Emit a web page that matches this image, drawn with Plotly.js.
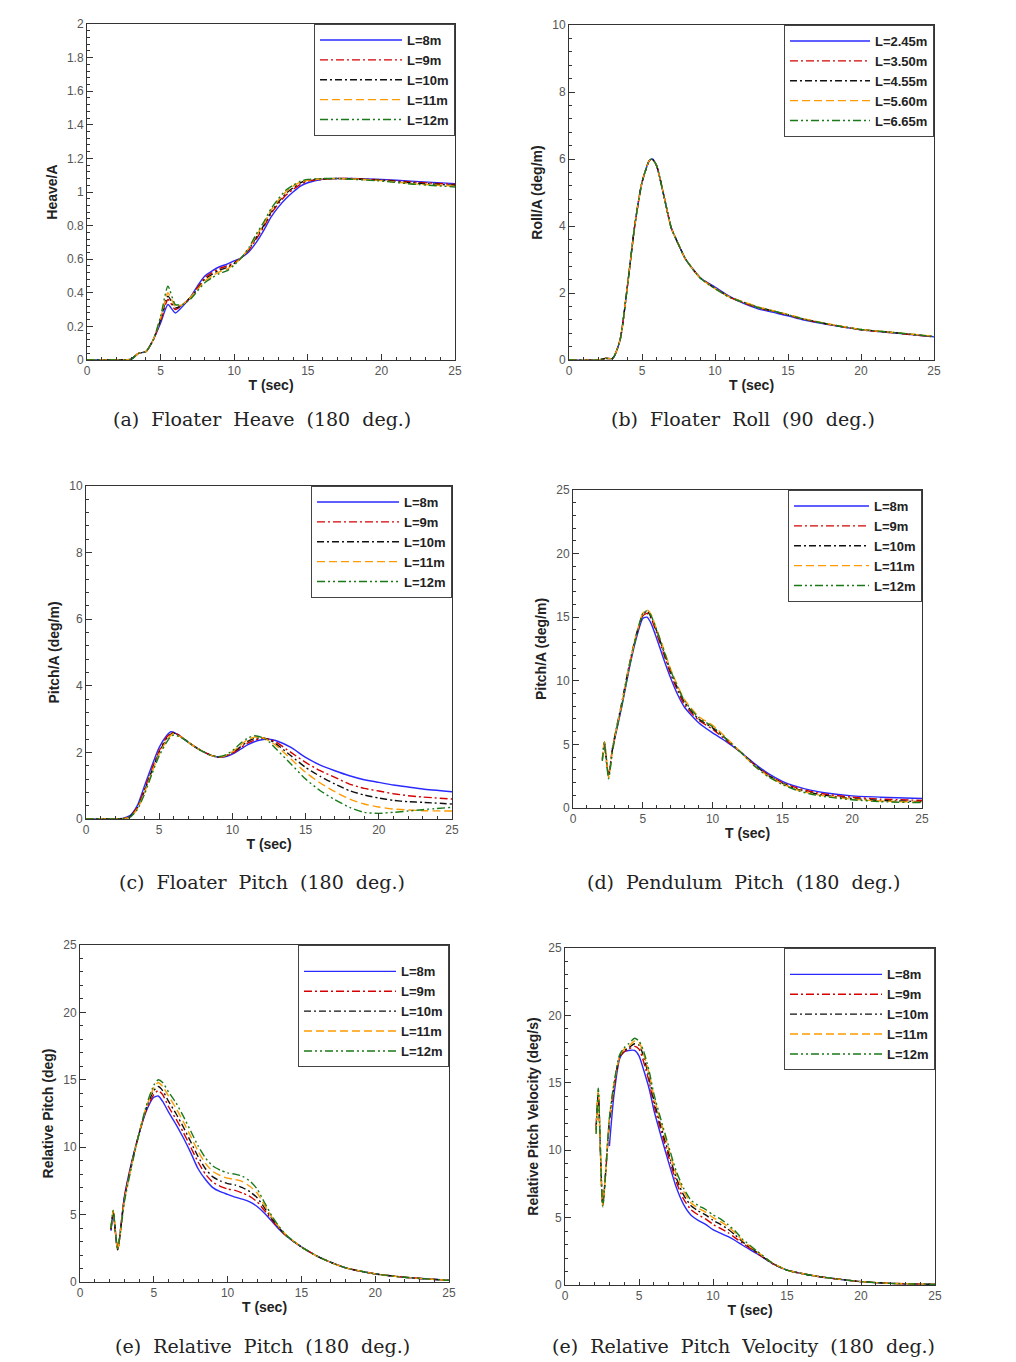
<!DOCTYPE html>
<html>
<head>
<meta charset="utf-8">
<script src="https://cdn.plot.ly/plotly-3.0.1.min.js"></script>
<style>html,body{margin:0;padding:0;background:#fff;}#chart{width:1016px;height:1362px;}</style>
</head>
<body>
<div id="chart"></div>
<script>
// ---------------- DATA ----------------
const namesA = ["L=8m", "L=9m", "L=10m", "L=11m", "L=12m"];
const namesB = ["L=2.45m", "L=3.50m", "L=4.55m", "L=5.60m", "L=6.65m"];

// (a) Floater Heave
const xHeave = [0,2,3,3.5,4,4.5,5,5.5,6,6.5,7,7.5,8,8.5,9,9.5,10,10.5,11,11.5,12,12.5,13,13.5,14,14.5,15,16,17,18,20,22,25];
const heaveL8  = [0,0,0.005,0.04,0.05,0.12,0.22,0.33,0.28,0.32,0.37,0.44,0.50,0.53,0.555,0.57,0.59,0.61,0.645,0.70,0.77,0.85,0.91,0.96,1.00,1.035,1.055,1.075,1.08,1.08,1.075,1.065,1.05];
const heaveL9  = [0,0,0.005,0.04,0.05,0.12,0.23,0.36,0.30,0.33,0.37,0.43,0.49,0.52,0.545,0.56,0.58,0.61,0.655,0.72,0.79,0.87,0.93,0.98,1.015,1.045,1.065,1.075,1.08,1.08,1.072,1.06,1.045];
const heaveL10 = [0,0,0.005,0.04,0.05,0.12,0.24,0.38,0.31,0.33,0.37,0.42,0.48,0.51,0.535,0.55,0.575,0.61,0.66,0.73,0.80,0.88,0.94,0.99,1.025,1.055,1.07,1.078,1.08,1.078,1.07,1.055,1.04];
const heaveL11 = [0,0,0.005,0.04,0.05,0.12,0.25,0.40,0.32,0.33,0.37,0.42,0.47,0.50,0.525,0.54,0.57,0.61,0.665,0.74,0.81,0.89,0.95,1.00,1.035,1.06,1.07,1.078,1.08,1.078,1.068,1.05,1.035];
const heaveL12 = [0,0,0.005,0.04,0.05,0.12,0.26,0.44,0.33,0.33,0.36,0.41,0.46,0.49,0.515,0.53,0.565,0.61,0.67,0.75,0.82,0.90,0.96,1.01,1.04,1.065,1.075,1.08,1.08,1.076,1.065,1.048,1.03];

// (b) Floater Roll
const xRoll = [0,2,2.5,3,3.5,4,4.5,5,5.5,5.7,6,6.5,7,7.5,8,9,10,11,12,13,14,15,16,18,20,22,25];
const rollL245 = [0,0,0.05,0.05,0.6,2.2,4.0,5.3,5.95,6.0,5.8,4.9,3.95,3.45,3.0,2.45,2.18,1.9,1.68,1.52,1.42,1.32,1.2,1.04,0.9,0.82,0.69];
const rollL350 = [0,0,0.05,0.05,0.6,2.2,4.0,5.3,5.95,6.0,5.8,4.9,3.95,3.45,3.0,2.45,2.15,1.88,1.70,1.55,1.45,1.34,1.22,1.05,0.9,0.82,0.69];
const rollL455 = [0,0,0.05,0.05,0.6,2.2,4.0,5.3,5.95,6.0,5.8,4.9,3.95,3.45,3.0,2.45,2.14,1.88,1.72,1.57,1.46,1.35,1.23,1.05,0.91,0.83,0.70];
const rollL560 = [0,0,0.05,0.05,0.6,2.2,4.0,5.3,5.95,6.0,5.8,4.9,3.95,3.45,3.0,2.44,2.13,1.88,1.73,1.58,1.47,1.36,1.24,1.06,0.91,0.83,0.71];
const rollL665 = [0,0,0.05,0.05,0.6,2.2,4.0,5.3,5.95,6.0,5.8,4.9,3.95,3.45,3.0,2.44,2.13,1.87,1.71,1.56,1.46,1.35,1.23,1.05,0.91,0.83,0.70];

// (c) Floater Pitch
const xPitch = [0,2,2.5,3,3.5,4,4.5,5,5.5,5.8,6,6.5,7,7.5,8,8.5,9,9.5,10,10.5,11,11.5,12,12.5,13,14,15,16,17,18,19,20,21,22,23,25];
const pitchL8  = [0,0,0.02,0.1,0.4,1.0,1.6,2.15,2.5,2.62,2.6,2.46,2.3,2.15,2.02,1.92,1.86,1.87,1.95,2.08,2.22,2.32,2.38,2.4,2.35,2.15,1.85,1.62,1.45,1.3,1.18,1.1,1.02,0.96,0.9,0.82];
const pitchL9  = [0,0,0.01,0.08,0.35,0.9,1.5,2.05,2.45,2.58,2.6,2.47,2.3,2.15,2.02,1.92,1.86,1.88,1.97,2.12,2.27,2.37,2.42,2.4,2.3,2.0,1.7,1.45,1.25,1.05,0.92,0.84,0.76,0.7,0.66,0.6];
const pitchL10 = [0,0,0.01,0.07,0.32,0.85,1.45,2.0,2.4,2.55,2.58,2.47,2.3,2.15,2.02,1.92,1.86,1.89,1.99,2.15,2.32,2.42,2.44,2.38,2.25,1.9,1.55,1.28,1.05,0.85,0.72,0.63,0.56,0.52,0.5,0.45];
const pitchL11 = [0,0,0.01,0.06,0.3,0.8,1.4,1.95,2.35,2.52,2.56,2.46,2.3,2.15,2.02,1.92,1.86,1.9,2.02,2.2,2.37,2.46,2.45,2.35,2.2,1.8,1.4,1.08,0.82,0.6,0.45,0.36,0.3,0.27,0.25,0.24];
const pitchL12 = [0,0,0.01,0.05,0.28,0.75,1.35,1.9,2.3,2.48,2.52,2.45,2.3,2.15,2.02,1.92,1.87,1.92,2.05,2.25,2.42,2.5,2.45,2.32,2.1,1.65,1.2,0.85,0.58,0.35,0.2,0.17,0.2,0.24,0.28,0.35];

// (d) Pendulum Pitch
const xPend = [2.1,2.25,2.55,2.8,3,3.5,4,4.5,5,5.3,5.6,6,6.5,7,7.5,8,9,10,11,12,13,14,15,16,17,18,20,22,25];
const pendL8  = [null,null,null,4.6,5.5,8.0,10.8,13.2,14.9,15.0,14.5,13.3,11.7,10.2,8.9,7.9,6.7,5.9,5.2,4.4,3.5,2.7,2.1,1.7,1.4,1.2,0.95,0.85,0.75];
const pendL9  = [null,5.0,2.6,4.5,5.6,8.2,11.0,13.4,15.1,15.3,14.9,13.7,12.1,10.5,9.2,8.1,6.9,6.2,5.3,4.4,3.4,2.6,2.0,1.6,1.3,1.1,0.85,0.7,0.6];
const pendL10 = [3.8,5.2,2.5,4.4,5.7,8.3,11.1,13.5,15.2,15.5,15.0,13.9,12.3,10.7,9.4,8.3,7.0,6.3,5.4,4.4,3.4,2.55,1.95,1.5,1.2,1.0,0.75,0.6,0.5];
const pendL11 = [3.8,5.2,2.4,4.3,5.6,8.2,11.0,13.5,15.3,15.6,15.2,14.0,12.5,10.9,9.6,8.5,7.2,6.5,5.5,4.4,3.3,2.5,1.9,1.45,1.15,0.95,0.7,0.55,0.45];
const pendL12 = [3.7,5.1,2.3,4.2,5.5,8.1,10.9,13.4,15.3,15.5,15.1,14.0,12.4,10.8,9.5,8.4,7.1,6.4,5.4,4.4,3.3,2.45,1.85,1.4,1.1,0.9,0.65,0.5,0.42];

// (e) Relative Pitch
const xRel = [2.1,2.25,2.55,3,3.5,4,4.5,5,5.3,5.6,6,6.5,7,7.5,8,8.5,9,9.5,10,10.5,11,11.5,12,12.5,13,13.5,14,15,16,17,18,20,22,25];
const relL8  = [3.8,5.1,2.4,6.3,8.9,11.0,12.7,13.7,13.8,13.4,12.6,11.7,10.7,9.6,8.4,7.6,7.0,6.7,6.5,6.3,6.15,5.95,5.6,5.1,4.5,3.9,3.4,2.6,1.95,1.45,1.05,0.6,0.35,0.12];
const relL9  = [3.9,5.2,2.4,6.2,8.8,11.0,12.8,13.9,14.2,13.9,13.0,12.1,11.1,10.0,8.9,8.0,7.4,7.1,6.9,6.8,6.6,6.35,5.95,5.3,4.6,3.95,3.4,2.6,1.95,1.45,1.05,0.6,0.35,0.12];
const relL10 = [3.9,5.2,2.4,6.1,8.8,11.0,12.9,14.2,14.5,14.2,13.4,12.5,11.5,10.4,9.3,8.4,7.8,7.5,7.3,7.2,7.0,6.7,6.25,5.5,4.7,4.0,3.4,2.6,1.95,1.45,1.05,0.6,0.35,0.12];
const relL11 = [4.0,5.3,2.4,6.0,8.7,11.0,13.0,14.4,14.8,14.5,13.8,12.9,11.9,10.8,9.7,8.8,8.2,7.9,7.7,7.6,7.45,7.1,6.6,5.7,4.8,4.05,3.45,2.6,1.95,1.45,1.05,0.6,0.35,0.12];
const relL12 = [4.0,5.3,2.4,5.9,8.6,11.0,13.1,14.6,15.0,14.8,14.1,13.3,12.3,11.2,10.1,9.2,8.6,8.3,8.1,8.0,7.85,7.5,6.9,5.9,4.9,4.1,3.45,2.6,1.95,1.45,1.05,0.6,0.35,0.12];

// (f) Relative Pitch Velocity
const xVel = [2.1,2.25,2.55,3,3.3,3.7,4,4.3,4.7,5,5.3,5.7,6,6.5,7,7.5,8,8.5,9,9.5,10,10.5,11,11.5,12,13,14,15,16,17,18,20,22,25];
const velL8  = [null,null,null,10.3,14.0,16.8,17.3,17.4,17.4,17.0,16.0,14.5,13.0,11.0,9.1,7.3,6.0,5.2,4.8,4.5,4.1,3.85,3.6,3.3,2.95,2.3,1.6,1.1,0.85,0.65,0.5,0.25,0.12,0.05];
const velL9  = [11.8,14.0,6.0,12.0,14.5,16.9,17.3,17.5,17.7,17.5,16.6,15.0,13.4,11.4,9.5,7.7,6.4,5.6,5.2,4.9,4.5,4.2,3.9,3.5,3.1,2.35,1.6,1.1,0.85,0.65,0.5,0.25,0.12,0.05];
const velL10 = [11.5,14.3,5.9,12.2,14.7,17.0,17.4,17.6,17.9,17.8,17.0,15.3,13.7,11.7,9.8,8.0,6.7,5.9,5.5,5.2,4.8,4.5,4.15,3.7,3.2,2.4,1.6,1.1,0.85,0.65,0.5,0.25,0.12,0.05];
const velL11 = [11.3,14.5,5.9,12.3,14.8,17.0,17.5,17.7,18.1,18.0,17.2,15.6,14.0,12.0,10.1,8.3,7.0,6.1,5.7,5.4,5.0,4.7,4.35,3.85,3.3,2.45,1.65,1.1,0.85,0.65,0.5,0.25,0.12,0.05];
const velL12 = [11.2,14.6,5.8,12.4,14.9,17.1,17.6,17.9,18.3,18.1,17.4,15.8,14.2,12.2,10.3,8.5,7.2,6.3,5.9,5.6,5.2,4.9,4.5,4.0,3.4,2.5,1.65,1.1,0.85,0.65,0.5,0.25,0.12,0.05];

const captions = ["(a)  Floater  Heave  (180  deg.)", "(b)  Floater  Roll  (90  deg.)", "(c)  Floater  Pitch  (180  deg.)",
                  "(d)  Pendulum  Pitch  (180  deg.)", "(e)  Relative  Pitch  (180  deg.)", "(e)  Relative  Pitch  Velocity  (180  deg.)"];
const yTitles = ["Heave/A", "Roll/A (deg/m)", "Pitch/A (deg/m)", "Pitch/A (deg/m)", "Relative Pitch (deg)", "Relative Pitch Velocity (deg/s)"];

// ---------------- STYLE ----------------
const W = 1016, H = 1362;
const lineStyles = [
  {color: "#2a2aff", dash: "solid"},
  {color: "#d40000", dash: "8px,3px,2px,3px"},
  {color: "#111111", dash: "7px,3px,2px,3px"},
  {color: "#ff9a00", dash: "8px,4px"},
  {color: "#1a7a1a", dash: "8px,3px,2px,3px,2px,3px"}
];
// plot boxes in pixels: [left, top, right, bottom]
const boxes = [[87,24,455,360],[569,25,934,360],[86,486,452,819],[573,490,922,808],[80,945,449,1282],[565,948,935,1285]];
const yRanges = [[0,2],[0,10],[0,10],[0,25],[0,25],[0,25]];
const yDticks = [0.2,2,2,5,5,5];
const yMinor = [0.04,0.4,0.4,1,1,1];
const capPos = [[262,419],[743,419],[262,882],[744,882],[262,1346],[743,1346]];
const legItemW = [82, 80, 82, 75, 92, 92];
const legTopPad = [false, false, false, false, true, true];

const panels = [
  {x: xHeave, ys: [heaveL8, heaveL9, heaveL10, heaveL11, heaveL12], names: namesA},
  {x: xRoll,  ys: [rollL245, rollL350, rollL455, rollL560, rollL665], names: namesB},
  {x: xPitch, ys: [pitchL8, pitchL9, pitchL10, pitchL11, pitchL12], names: namesA},
  {x: xPend,  ys: [pendL8, pendL9, pendL10, pendL11, pendL12], names: namesA},
  {x: xRel,   ys: [relL8, relL9, relL10, relL11, relL12], names: namesA},
  {x: xVel,   ys: [velL8, velL9, velL10, velL11, velL12], names: namesA}
];

const tickFont = {family: "Liberation Sans, Arial, sans-serif", size: 12, color: "#555"};
const titleFont = {family: "Liberation Sans, Arial, sans-serif", size: 14, color: "#222", weight: "bold"};

const traces = [];
const layout = {
  width: W, height: H,
  margin: {l: 0, r: 0, t: 0, b: 0},
  paper_bgcolor: "#fff", plot_bgcolor: "#fff",
  showlegend: true,
  annotations: []
};

panels.forEach((p, i) => {
  const k = i + 1;
  const xa = "x" + (k === 1 ? "" : k), ya = "y" + (k === 1 ? "" : k);
  const lg = "legend" + (k === 1 ? "" : k);
  p.ys.forEach((ys, j) => {
    traces.push({
      type: "scatter", mode: "lines", x: p.x, y: ys, name: p.names[j],
      xaxis: xa, yaxis: ya, legend: lg,
      line: {color: lineStyles[j].color, dash: lineStyles[j].dash, width: 1.4, shape: "spline", smoothing: 0.6},
      connectgaps: false
    });
  });
  const b = boxes[i];
  const axBase = {
    showline: true, linecolor: "#333", linewidth: 1, mirror: true,
    showgrid: false, zeroline: false,
    ticks: "inside", ticklen: 6, tickcolor: "#333", tickwidth: 1,
    tickfont: tickFont, tick0: 0
  };
  layout["xaxis" + (k === 1 ? "" : k)] = Object.assign({}, axBase, {
    domain: [b[0] / W, b[2] / W], range: [0, 25], dtick: 5,
    anchor: ya,
    minor: {ticks: "inside", ticklen: 3, dtick: 1, tickcolor: "#333"},
    title: {text: "T (sec)", font: titleFont, standoff: 2}
  });
  layout["yaxis" + (k === 1 ? "" : k)] = Object.assign({}, axBase, {
    domain: [1 - b[3] / H, 1 - b[1] / H], range: yRanges[i], dtick: yDticks[i],
    anchor: xa,
    minor: {ticks: "inside", ticklen: 3, dtick: yMinor[i], tickcolor: "#333"},
    title: {text: yTitles[i], font: titleFont, standoff: 6}
  });
  const leg = {
    x: b[2] / W, xanchor: "right", y: 1 - b[1] / H, yanchor: "top",
    xref: "paper", yref: "paper",
    bgcolor: "#fff", bordercolor: "#444", borderwidth: 1,
    font: {family: "Liberation Sans, Arial, sans-serif", size: 13, color: "#222", weight: "bold"},
    itemwidth: legItemW[i], tracegroupgap: 0
  };
  if (legTopPad[i]) leg.title = {text: " ", font: {size: 8}};
  layout[lg] = leg;
  layout.annotations.push({
    xref: "paper", yref: "paper", x: capPos[i][0] / W, y: 1 - capPos[i][1] / H,
    xanchor: "center", yanchor: "middle", showarrow: false,
    text: captions[i],
    font: {family: "DejaVu Serif, Liberation Serif, serif", size: 19, color: "#222"}
  });
});

Plotly.newPlot("chart", traces, layout, {staticPlot: true, displayModeBar: false});
</script>
</body>
</html>
